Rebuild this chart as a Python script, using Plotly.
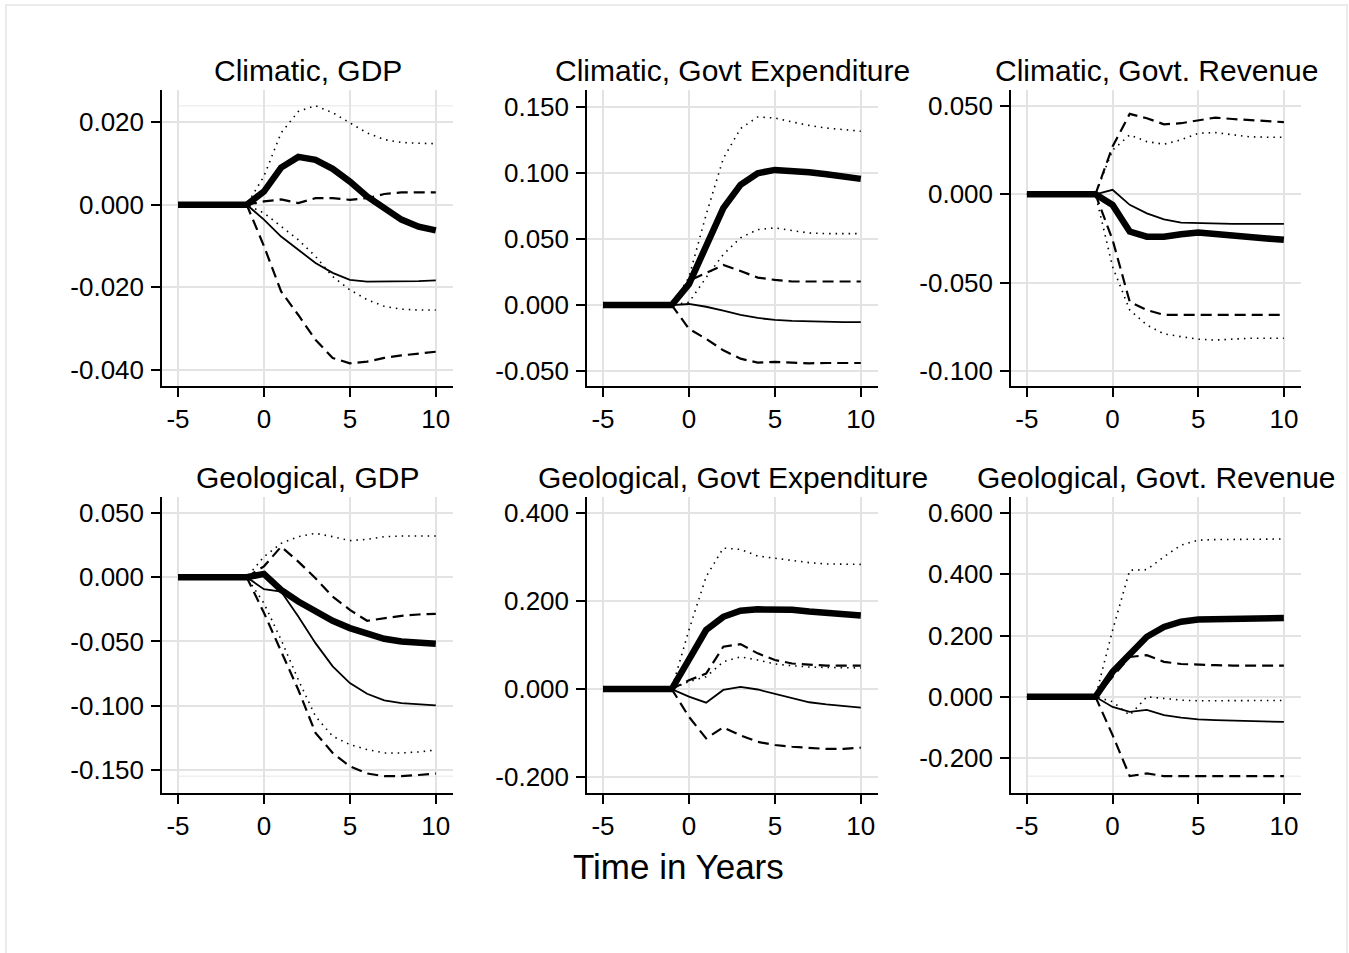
import plotly.graph_objects as go

# ---------------- data ----------------
years = list(range(-5, 11))
x_ticks = [-5, 0, 5, 10]
x_ticktext = ["-5", "0", "5", "10"]
pre = [0, 0, 0, 0, 0]

titles = ["Climatic, GDP", "Climatic, Govt Expenditure", "Climatic, Govt. Revenue",
          "Geological, GDP", "Geological, Govt Expenditure", "Geological, Govt. Revenue"]

# Climatic, GDP
c_gdp_thick = pre + [0.0032, 0.0090, 0.0116, 0.0109, 0.0087, 0.0056, 0.0020, -0.0010, -0.0036, -0.0053, -0.0062]
c_gdp_thin = pre + [-0.0036, -0.0077, -0.0109, -0.0141, -0.0165, -0.0182, -0.0186, -0.0186, -0.0186, -0.0185, -0.0183]
c_gdp_dash_hi = pre + [0.0008, 0.0013, 0.0004, 0.0016, 0.0016, 0.0012, 0.0016, 0.0026, 0.0030, 0.0030, 0.0030]
c_gdp_dash_lo = pre + [-0.0100, -0.0210, -0.0267, -0.0327, -0.0371, -0.0384, -0.0380, -0.0371, -0.0365, -0.0360, -0.0356]
c_gdp_dot_hi = pre + [0.0069, 0.0174, 0.0226, 0.0240, 0.0223, 0.0199, 0.0174, 0.0158, 0.0151, 0.0149, 0.0148]
c_gdp_dot_lo = pre + [-0.0020, -0.0053, -0.0085, -0.0125, -0.0174, -0.0206, -0.0230, -0.0246, -0.0253, -0.0255, -0.0255]

# Climatic, Govt Expenditure
c_exp_thick = pre + [0.0158, 0.0434, 0.0734, 0.0910, 0.0998, 0.1023, 0.1018, 0.1005, 0.0990, 0.0972, 0.0955]
c_exp_thin = pre + [0.0008, -0.0013, -0.0043, -0.0075, -0.0098, -0.0113, -0.0120, -0.0125, -0.0128, -0.0130, -0.0130]
c_exp_dash_hi = pre + [0.0183, 0.0246, 0.0303, 0.0258, 0.0208, 0.0190, 0.0178, 0.0178, 0.0178, 0.0178, 0.0178]
c_exp_dash_lo = pre + [-0.0180, -0.0256, -0.0343, -0.0406, -0.0436, -0.0431, -0.0436, -0.0441, -0.0439, -0.0439, -0.0439]
c_exp_dot_hi = pre + [0.0210, 0.0684, 0.1110, 0.1336, 0.1424, 0.1416, 0.1386, 0.1360, 0.1340, 0.1328, 0.1316]
c_exp_dot_lo = pre + [0.0020, 0.0208, 0.0383, 0.0509, 0.0571, 0.0584, 0.0564, 0.0545, 0.0541, 0.0541, 0.0541]

# Climatic, Govt. Revenue
c_rev_thick = pre + [-0.0060, -0.0211, -0.0240, -0.0240, -0.0226, -0.0217, -0.0225, -0.0236, -0.0243, -0.0250, -0.0258]
c_rev_thin = pre + [0.0025, -0.0060, -0.0108, -0.0142, -0.0160, -0.0164, -0.0168, -0.0168, -0.0168, -0.0168, -0.0168]
c_rev_dash_hi = pre + [0.0270, 0.0455, 0.0430, 0.0396, 0.0402, 0.0420, 0.0434, 0.0426, 0.0420, 0.0411, 0.0408]
c_rev_dash_lo = pre + [-0.0258, -0.0608, -0.0655, -0.0683, -0.0683, -0.0683, -0.0683, -0.0683, -0.0683, -0.0683, -0.0683]
c_rev_dot_hi = pre + [0.0250, 0.0336, 0.0298, 0.0283, 0.0308, 0.0345, 0.0349, 0.0336, 0.0325, 0.0323, 0.0323]
c_rev_dot_lo = pre + [-0.0410, -0.0655, -0.0740, -0.0790, -0.0806, -0.0820, -0.0825, -0.0818, -0.0815, -0.0815, -0.0815]

# Geological, GDP
g_gdp_thick = pre + [0.0026, -0.0098, -0.0189, -0.0267, -0.0339, -0.0396, -0.0443, -0.0479, -0.0500, -0.0513, -0.0518]
g_gdp_thin = pre + [-0.0093, -0.0111, -0.0306, -0.0513, -0.0694, -0.0824, -0.0907, -0.0959, -0.0980, -0.0990, -0.0997]
g_gdp_dash_hi = pre + [0.0085, 0.0238, 0.0122, -0.0008, -0.0150, -0.0254, -0.0339, -0.0319, -0.0300, -0.0290, -0.0285]
g_gdp_dash_lo = pre + [-0.0277, -0.0573, -0.0876, -0.1212, -0.1368, -0.1472, -0.1528, -0.1549, -0.1549, -0.1540, -0.1528]
g_gdp_dot_hi = pre + [0.0160, 0.0264, 0.0316, 0.0342, 0.0316, 0.0285, 0.0295, 0.0316, 0.0321, 0.0321, 0.0321]
g_gdp_dot_lo = pre + [-0.0202, -0.0487, -0.0798, -0.1083, -0.1238, -0.1303, -0.1342, -0.1368, -0.1368, -0.1360, -0.1345]

# Geological, Govt Expenditure
g_exp_thick = pre + [0.067, 0.134, 0.164, 0.178, 0.181, 0.182, 0.180, 0.176, 0.172, 0.170, 0.167]
g_exp_thin = pre + [-0.017, -0.031, -0.002, 0.005, -0.001, -0.011, -0.021, -0.030, -0.035, -0.039, -0.042]
g_exp_dash_hi = pre + [0.020, 0.035, 0.096, 0.102, 0.081, 0.066, 0.058, 0.055, 0.053, 0.053, 0.053]
g_exp_dash_lo = pre + [-0.063, -0.112, -0.087, -0.105, -0.120, -0.127, -0.131, -0.133, -0.136, -0.136, -0.133]
g_exp_dot_hi = pre + [0.134, 0.255, 0.320, 0.317, 0.302, 0.297, 0.291, 0.287, 0.284, 0.283, 0.283]
g_exp_dot_lo = pre + [0.017, 0.028, 0.062, 0.073, 0.066, 0.057, 0.053, 0.050, 0.049, 0.048, 0.048]

# Geological, Govt. Revenue
g_rev_thick = pre + [0.0815, 0.141, 0.196, 0.228, 0.245, 0.252, 0.254, 0.255, 0.256, 0.256, 0.257]
g_rev_thin = pre + [-0.033, -0.049, -0.043, -0.060, -0.068, -0.074, -0.076, -0.078, -0.080, -0.082, -0.082]
g_rev_dash_hi = pre + [0.065, 0.130, 0.136, 0.114, 0.107, 0.104, 0.103, 0.102, 0.102, 0.102, 0.102]
g_rev_dash_lo = pre + [-0.125, -0.259, -0.250, -0.259, -0.259, -0.259, -0.259, -0.259, -0.259, -0.259, -0.259]
g_rev_dot_hi = pre + [0.217, 0.413, 0.415, 0.457, 0.495, 0.511, 0.513, 0.513, 0.513, 0.513, 0.515]
g_rev_dot_lo = pre + [-0.016, -0.060, 0.000, -0.005, -0.011, -0.013, -0.013, -0.013, -0.013, -0.013, -0.012]

# y tick values and labels per panel
y_tickvals = [
    [-0.04, -0.02, 0.0, 0.02],
    [-0.05, 0.0, 0.05, 0.10, 0.15],
    [-0.10, -0.05, 0.0, 0.05],
    [-0.15, -0.10, -0.05, 0.0, 0.05],
    [-0.2, 0.0, 0.2, 0.4],
    [-0.2, 0.0, 0.2, 0.4, 0.6],
]
y_ticktext = [
    ["-0.040", "-0.020", "0.000", "0.020"],
    ["-0.050", "0.000", "0.050", "0.100", "0.150"],
    ["-0.100", "-0.050", "0.000", "0.050"],
    ["-0.150", "-0.100", "-0.050", "0.000", "0.050"],
    ["-0.200", "0.000", "0.200", "0.400"],
    ["-0.200", "0.000", "0.200", "0.400", "0.600"],
]
y_ranges = [
    [-0.0439, 0.0278],
    [-0.0613, 0.1628],
    [-0.1085, 0.0590],
    [-0.1680, 0.0625],
    [-0.2360, 0.4360],
    [-0.3140, 0.6520],
]
x_range = [-5.93, 11.0]

panels = [
    (c_gdp_thick, c_gdp_thin, c_gdp_dash_hi, c_gdp_dash_lo, c_gdp_dot_hi, c_gdp_dot_lo),
    (c_exp_thick, c_exp_thin, c_exp_dash_hi, c_exp_dash_lo, c_exp_dot_hi, c_exp_dot_lo),
    (c_rev_thick, c_rev_thin, c_rev_dash_hi, c_rev_dash_lo, c_rev_dot_hi, c_rev_dot_lo),
    (g_gdp_thick, g_gdp_thin, g_gdp_dash_hi, g_gdp_dash_lo, g_gdp_dot_hi, g_gdp_dot_lo),
    (g_exp_thick, g_exp_thin, g_exp_dash_hi, g_exp_dash_lo, g_exp_dot_hi, g_exp_dot_lo),
    (g_rev_thick, g_rev_thin, g_rev_dash_hi, g_rev_dash_lo, g_rev_dot_hi, g_rev_dot_lo),
]

# ---------------- layout geometry ----------------
W, H = 1349, 953
col_px = [(162, 453), (587, 878), (1011, 1301)]
row_px = [(90, 386), (497, 793)]
FONT = "Liberation Sans, Arial, sans-serif"
GRID = "#e3e3e3"
TICK_SIZE = 26

fig = go.Figure()
layout = dict(
    width=W, height=H, autosize=False,
    margin=dict(l=0, r=0, t=0, b=0),
    paper_bgcolor="white", plot_bgcolor="white",
    showlegend=False,
    font=dict(family=FONT, color="black"),
)
annotations = []
shapes = []

for i, series in enumerate(panels):
    r, c = divmod(i, 3)
    xn = "x" if i == 0 else f"x{i+1}"
    yn = "y" if i == 0 else f"y{i+1}"
    xk = "xaxis" if i == 0 else f"xaxis{i+1}"
    yk = "yaxis" if i == 0 else f"yaxis{i+1}"
    x0, x1 = col_px[c]
    y0, y1 = row_px[r]
    layout[xk] = dict(
        domain=[x0 / W, x1 / W], anchor=yn, range=x_range,
        tickvals=x_ticks, ticktext=x_ticktext,
        showline=True, linecolor="black", linewidth=1.5, mirror=False,
        ticks="outside", ticklen=9, tickwidth=1.5, tickcolor="black",
        showgrid=True, gridcolor=GRID, gridwidth=2, zeroline=False,
        tickfont=dict(size=TICK_SIZE, family=FONT, color="black"),
        ticklabelstandoff=0,
    )
    layout[yk] = dict(
        domain=[1 - y1 / H, 1 - y0 / H], anchor=xn, range=y_ranges[i],
        tickvals=y_tickvals[i], ticktext=y_ticktext[i],
        showline=True, linecolor="black", linewidth=1.5, mirror=False,
        ticks="outside", ticklen=9, tickwidth=1.5, tickcolor="black",
        showgrid=True, gridcolor=GRID, gridwidth=2, zeroline=False,
        tickfont=dict(size=TICK_SIZE, family=FONT, color="black"),
        ticklabelstandoff=2,
    )
    thick, thin, dhi, dlo, phi, plo = series
    for ys in (phi, plo):
        fig.add_trace(go.Scatter(x=years, y=ys, mode="lines", xaxis=xn, yaxis=yn,
                                 line=dict(color="black", width=1.6, dash="1.5px,5px")))
    for ys in (dhi, dlo):
        fig.add_trace(go.Scatter(x=years, y=ys, mode="lines", xaxis=xn, yaxis=yn,
                                 line=dict(color="black", width=2.2, dash="11px,6px")))
    fig.add_trace(go.Scatter(x=years, y=thin, mode="lines", xaxis=xn, yaxis=yn,
                             line=dict(color="black", width=1.8)))
    fig.add_trace(go.Scatter(x=years, y=thick, mode="lines", xaxis=xn, yaxis=yn,
                             line=dict(color="black", width=6.5)))

    # faint lines at data extremes lying beyond the outermost gridline
    allv = list(thick) + list(thin) + list(dhi) + list(dlo) + list(phi) + list(plo)
    vmax, vmin = max(allv), min(allv)
    for v, cond in ((vmax, vmax > max(y_tickvals[i])), (vmin, vmin < min(y_tickvals[i]))):
        if cond:
            shapes.append(dict(type="line", xref=xn, yref=yn, x0=years[0], x1=x_range[1],
                               y0=v, y1=v, line=dict(color="#efefef", width=1.5), layer="below"))

    title_y = y0 - 20
    annotations.append(dict(text=titles[i], x=(x0 + x1) / 2 / W, y=1 - title_y / H,
                            xref="paper", yref="paper", showarrow=False,
                            xanchor="center", yanchor="middle",
                            font=dict(size=30, family=FONT, color="black")))

annotations.append(dict(text="Time in Years", x=678 / W, y=1 - 866 / H,
                        xref="paper", yref="paper", showarrow=False,
                        xanchor="center", yanchor="middle",
                        font=dict(size=35, family=FONT, color="black")))

shapes.append(dict(type="rect", xref="paper", yref="paper",
                   x0=6 / W, x1=1347 / W, y0=-0.2, y1=1 - 5 / H,
                   line=dict(color="#ebebeb", width=2), fillcolor="rgba(0,0,0,0)", layer="below"))

layout["annotations"] = annotations
layout["shapes"] = shapes
fig.update_layout(**layout)

fig.write_html("out.html")
